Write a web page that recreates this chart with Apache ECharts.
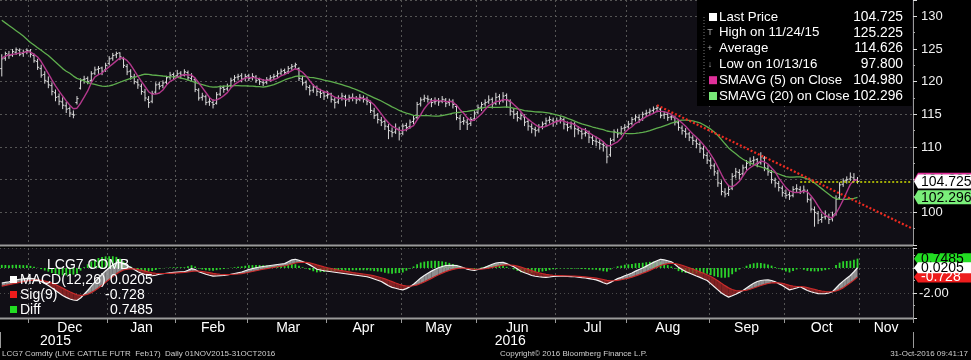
<!DOCTYPE html>
<html><head><meta charset="utf-8">
<script src="https://cdn.jsdelivr.net/npm/echarts@6/dist/echarts.min.js"></script>
<style>html,body{margin:0;padding:0;background:#000;}#c{width:971px;height:360px;}</style>
</head><body><div id="c"></div>
<script>
// ---------------- DATA ----------------
const holidays = ['2015-11-26','2015-12-25','2016-01-01','2016-01-18','2016-02-15','2016-03-25','2016-05-30','2016-07-04','2016-09-05'];
const firstDay = '2015-11-18', lastAxisDay = '2016-11-21';
const monthNames = ['Jan','Feb','Mar','Apr','May','Jun','Jul','Aug','Sep','Oct','Nov','Dec'];

const opens = [122.0,123.6,124.2,124.1,124.5,124.8,124.3,124.6,124.7,124.0,
123.1,122.0,121.1,120.0,119.4,118.3,117.7,116.9,116.3,115.9,
115.0,116.8,119.0,120.3,120.5,120.2,121.3,121.9,122.1,121.8,
122.8,123.6,124.1,124.4,123.5,122.3,121.6,120.7,119.9,119.3,
118.4,117.3,117.0,118.4,119.6,119.4,119.9,120.7,121.1,
120.9,121.3,121.0,121.4,120.5,120.3,118.7,117.6,117.7,116.9,
116.8,116.7,118.1,119.1,118.9,119.4,120.3,120.7,120.9,120.5,
120.9,120.6,120.7,120.3,119.9,119.9,120.4,120.7,120.9,121.3,
121.7,121.5,122.1,122.4,122.0,120.4,119.9,119.1,118.7,119.1,118.4,118.3,
117.9,118.1,117.2,116.9,117.5,117.7,117.3,117.6,117.4,117.3,
117.5,117.2,116.8,115.5,114.9,114.1,113.9,113.1,112.4,112.3,112.7,
112.1,113.3,113.1,113.9,114.5,116.6,117.3,117.4,117.2,116.9,
117.1,117.0,117.2,116.8,117.0,116.2,114.4,113.9,113.8,113.6,114.3,
115.3,116.1,116.6,116.9,117.3,116.7,117.7,117.1,117.9,117.0,
115.4,115.1,114.4,114.6,113.9,113.1,112.7,112.6,113.1,113.6,114.1,114.1,
113.9,114.1,114.2,113.4,113.1,113.5,112.7,112.4,112.1,112.1,
111.4,110.9,110.7,110.4,110.0,108.8,111.1,112.2,112.1,112.9,
113.1,113.6,114.3,114.5,114.3,115.1,115.3,115.6,115.9,115.8,
114.9,115.0,114.6,114.5,113.7,112.9,112.4,112.0,111.4,110.9,110.4,109.7,108.7,
107.9,107.1,106.0,104.4,103.1,102.9,103.7,105.6,106.1,105.9,
106.9,107.6,107.9,108.1,107.6,108.3,106.7,106.1,104.9,104.4,103.7,
102.9,102.7,102.6,103.6,103.5,103.3,103.2,101.9,100.4,99.8,98.9,
99.3,99.3,99.0,99.8,102.2,104.3,104.9,105.1,105.3,105.0];

const highs = [124.2,124.6,124.7,125.0,125.225,125.1,124.9,125.1,125.0,124.3,
123.5,122.6,121.6,120.8,119.9,118.8,118.2,117.6,116.9,116.2,
115.6,117.8,120.5,120.9,120.8,121.6,122.3,122.4,122.3,122.9,
123.9,124.4,124.6,124.5,123.8,122.7,121.9,121.2,120.4,119.7,
118.9,117.8,118.6,119.9,120.0,120.2,120.9,121.5,121.4,
121.8,121.6,121.9,121.7,121.3,120.6,119.0,118.3,118.0,117.5,
117.3,118.4,119.4,119.4,119.7,120.6,121.0,121.2,121.3,121.2,
121.2,121.3,121.0,120.6,120.4,120.7,121.0,121.2,121.7,122.0,
122.0,122.4,122.7,122.9,122.2,120.9,120.2,119.5,119.6,119.4,118.9,118.6,
118.6,118.3,117.6,117.9,118.3,118.0,118.0,118.2,117.8,118.1,
117.9,117.7,117.1,116.0,115.2,114.6,114.2,113.5,113.0,113.6,113.1,
113.6,113.7,114.2,114.8,116.9,117.6,118.0,117.9,117.5,117.6,
117.5,117.8,117.5,117.4,117.3,116.5,114.9,114.6,114.3,114.6,115.6,
116.5,116.9,117.3,117.9,117.6,118.3,118.1,118.4,118.2,117.3,
115.9,115.5,115.3,115.0,114.3,113.6,113.1,113.5,113.9,114.5,114.7,114.5,
114.5,114.7,114.5,113.9,113.9,113.8,113.2,112.8,112.9,112.5,
111.9,111.6,111.2,110.9,110.4,111.4,112.7,112.8,113.2,113.5,
114.0,114.6,115.0,115.0,115.4,115.7,115.9,116.2,116.4,116.0,
115.4,115.3,115.1,114.8,114.1,113.3,112.9,112.3,111.8,111.3,110.8,110.2,109.2,
108.4,107.5,106.5,104.9,103.7,104.2,106.0,106.8,106.6,107.3,
108.0,108.4,108.6,108.3,109.2,108.6,107.3,106.5,105.3,104.8,104.1,
103.5,103.2,104.0,104.3,104.0,104.1,103.5,102.3,100.9,100.2,99.8,
100.3,99.8,100.1,102.6,104.6,105.2,105.5,106.1,106.0,105.4];

const lows = [120.8,123.2,123.5,123.8,124.1,123.9,123.8,124.2,123.7,122.9,
121.8,120.6,119.7,119.0,117.9,117.0,116.4,115.8,115.2,114.6,
114.4,116.5,118.8,119.7,119.6,119.9,121.0,121.2,121.0,121.5,
122.5,123.2,123.6,123.3,122.1,121.0,120.3,119.6,118.9,118.0,
117.0,116.0,116.7,118.1,118.8,119.0,119.6,120.3,120.4,
120.6,120.5,120.8,120.2,120.1,118.4,117.1,117.1,116.4,116.3,
115.9,116.5,117.8,118.3,118.6,119.1,119.9,120.2,119.9,120.1,
120.1,120.2,119.8,119.5,119.3,119.6,120.0,120.3,120.6,121.0,
121.0,121.2,121.8,121.9,120.1,119.4,118.7,117.9,118.3,117.8,117.5,117.2,
117.4,116.8,115.9,116.6,117.1,116.2,116.9,117.0,116.6,117.0,
116.8,116.4,115.2,114.3,113.6,113.2,112.6,111.2,111.5,112.0,111.0,
111.8,112.4,112.8,113.5,114.3,116.2,116.9,116.8,116.1,116.5,
116.3,116.7,116.1,116.3,115.9,114.1,112.6,113.4,112.6,113.2,114.0,
115.0,115.5,116.2,116.6,115.9,116.4,116.5,116.8,116.0,114.8,
114.3,113.9,114.1,113.2,112.5,112.1,111.6,112.2,112.7,113.2,113.6,113.1,
113.4,113.6,112.7,112.4,112.7,111.5,111.9,111.2,111.6,110.6,
110.3,110.1,109.6,109.3,107.5,108.5,110.8,111.4,111.8,112.4,
112.7,113.3,113.9,113.7,114.0,114.6,114.9,115.2,115.3,114.4,
114.3,114.0,114.1,113.3,112.5,111.9,111.4,110.9,110.3,109.8,109.1,108.2,107.4,
106.6,105.6,103.9,102.6,102.3,102.5,103.4,105.2,105.0,105.6,
106.5,107.1,107.3,106.9,107.3,106.3,105.6,104.4,103.8,103.2,102.4,
102.1,101.9,102.3,103.1,102.8,102.9,101.5,100.1,97.8,98.2,98.4,
98.9,98.2,98.6,99.5,101.9,103.9,104.4,104.8,104.6,104.4];

const closes = [123.5,124.3,124.0,124.6,124.9,124.2,124.5,124.8,124.2,123.2,
122.2,121.0,120.2,119.5,118.5,117.6,117.0,116.4,115.8,115.2,
114.9,117.4,120.2,120.4,120.0,121.2,121.8,122.0,121.6,122.5,
123.5,124.0,124.3,123.8,122.5,121.5,120.8,120.0,119.5,118.5,
117.5,116.8,118.2,119.5,119.3,119.8,120.6,121.0,120.8,
121.2,121.0,121.5,120.6,120.8,118.8,117.5,117.8,116.8,117.0,
116.5,118.0,119.0,118.8,119.3,120.2,120.6,120.8,120.4,120.8,
120.5,120.8,120.2,120.0,119.8,120.3,120.6,120.8,121.2,121.6,
121.4,122.0,122.3,122.6,120.5,119.8,119.2,118.6,119.2,118.5,118.2,117.8,
118.0,117.3,116.8,117.4,117.8,117.2,117.6,117.5,117.2,117.6,
117.3,117.0,115.6,114.8,114.2,113.8,113.2,112.5,112.2,112.8,112.0,
113.2,113.0,113.8,114.3,116.5,117.2,117.5,117.3,116.8,117.0,
116.9,117.3,116.7,117.0,116.5,114.5,113.8,114.0,113.5,114.2,115.2,
116.0,116.5,116.8,117.2,116.6,117.6,117.0,117.8,117.2,115.5,
115.0,114.5,114.8,113.8,113.2,112.8,112.5,113.0,113.5,114.0,114.2,113.8,
114.0,114.3,113.5,113.0,113.6,112.8,112.5,112.0,112.2,111.5,
111.0,110.8,110.5,110.2,108.5,111.0,112.3,112.0,112.8,113.0,
113.5,114.2,114.6,114.2,115.0,115.2,115.5,115.8,116.0,114.8,
115.0,114.5,114.6,113.8,113.0,112.5,112.0,111.5,111.0,110.5,109.8,108.8,108.0,
107.2,106.2,104.5,103.2,102.8,103.5,105.5,106.2,105.8,106.8,
107.5,107.8,108.0,107.5,108.5,106.8,106.2,105.0,104.5,103.8,103.0,
102.6,102.5,103.5,103.6,103.2,103.4,102.0,100.5,100.0,98.8,99.2,
99.4,98.9,99.6,102.0,104.2,104.8,105.0,105.4,105.0,104.725];

const sma5 = [123.6,123.9,124.1,124.2,124.26,124.40,124.44,124.60,124.52,124.18,
123.78,123.08,122.16,121.22,120.28,119.36,118.56,117.80,117.06,116.40,
115.86,115.94,116.70,117.62,118.58,119.84,120.72,121.08,121.32,121.82,
122.28,122.72,123.18,123.62,123.62,123.22,122.58,121.72,120.86,120.06,
119.26,118.46,118.10,118.10,118.26,118.72,119.48,120.04,120.30,120.68,
120.92,121.10,121.02,121.02,120.54,119.84,119.10,118.34,117.58,117.12,
117.22,117.46,117.86,118.32,119.06,119.58,119.94,120.26,120.56,120.62,
120.66,120.54,120.46,120.26,120.22,120.18,120.30,120.54,120.90,121.12,
121.40,121.70,121.98,121.76,121.44,120.88,120.14,119.46,119.06,118.74,
118.46,118.34,117.96,117.62,117.46,117.46,117.30,117.36,117.50,117.46,
117.42,117.44,117.32,116.94,116.46,115.78,115.08,114.32,113.70,113.18,
112.90,112.54,112.54,112.64,112.96,113.26,114.16,114.96,115.86,116.56,
117.06,117.16,117.10,117.06,116.94,116.98,116.88,116.40,115.70,115.16,
114.46,114.00,114.14,114.58,115.08,115.74,116.34,116.62,116.94,117.04,
117.24,117.24,117.02,116.50,116.00,115.40,114.72,114.26,113.82,113.42,
113.06,113.00,113.16,113.44,113.70,113.90,114.06,113.96,113.72,113.68,
113.44,113.08,112.78,112.62,112.20,111.84,111.50,111.20,110.80,110.20,
110.20,110.50,110.80,111.32,112.22,112.72,113.10,113.62,113.90,114.30,
114.64,114.90,115.14,115.50,115.46,115.42,115.22,114.98,114.54,114.18,
113.68,113.18,112.56,112.00,111.50,110.96,110.32,109.62,108.86,108.00,
106.94,105.82,104.78,104.04,103.90,104.24,104.76,105.56,106.36,106.82,
107.18,107.52,107.86,107.72,107.40,106.80,106.20,105.26,104.50,103.78,
103.28,103.08,103.04,103.08,103.24,103.14,102.54,101.82,100.94,100.10,
99.58,99.26,99.18,99.82,100.82,101.90,103.12,104.28,104.88,104.98];

const sma20 = [129.4,129.0,128.6,128.2,127.8,127.4,127.0,126.5,126.0,125.6,
125.2,124.8,124.4,124.0,123.5,123.0,122.5,122.0,121.6,121.28,
120.85,120.51,120.32,120.11,119.86,119.71,119.58,119.44,119.31,119.27,
119.34,119.49,119.69,119.91,120.11,120.30,120.49,120.67,120.86,121.02,
121.15,121.12,121.02,120.98,120.94,120.87,120.81,120.76,120.72,120.66,
120.53,120.41,120.22,120.07,119.89,119.69,119.54,119.38,119.25,119.15,
119.18,119.29,119.32,119.31,119.35,119.39,119.40,119.37,119.37,119.34,
119.33,119.26,119.23,119.18,119.26,119.41,119.56,119.78,120.01,120.26,
120.46,120.62,120.81,120.87,120.85,120.78,120.67,120.61,120.50,120.38,
120.23,120.12,119.99,119.84,119.69,119.55,119.37,119.19,118.99,118.78,
118.56,118.31,118.03,117.78,117.53,117.28,117.04,116.74,116.44,116.14,
115.89,115.59,115.39,115.20,115.02,114.84,114.81,114.79,114.79,114.79,
114.75,114.74,114.73,114.82,114.91,115.05,115.19,115.25,115.32,115.41,
115.44,115.55,115.65,115.80,115.94,116.06,116.10,116.07,116.07,116.06,
116.11,116.12,116.05,115.93,115.82,115.71,115.58,115.51,115.46,115.39,
115.36,115.33,115.27,115.18,115.04,114.90,114.76,114.60,114.37,114.20,
113.95,113.72,113.54,113.40,113.25,113.06,112.91,112.78,112.65,112.45,
112.35,112.29,112.19,112.12,112.08,112.05,112.05,112.10,112.16,112.23,
112.35,112.50,112.69,112.88,113.05,113.25,113.43,113.64,113.82,114.04,
114.12,114.10,114.08,113.99,113.86,113.68,113.41,113.08,112.73,112.29,
111.75,111.14,110.49,109.86,109.40,108.96,108.52,108.13,107.82,107.56,
107.33,107.11,106.96,106.75,106.53,106.29,106.08,105.87,105.66,105.48,
105.38,105.39,105.43,105.42,105.31,105.10,104.84,104.50,104.06,103.63,
103.20,102.77,102.33,102.09,101.99,101.98,102.00,102.08,102.15,102.296];

const macd = [-1.20,-1.15,-1.10,-1.02,-0.95,-0.90,-0.86,-0.82,-0.83,-0.86,
-0.95,-1.08,-1.24,-1.40,-1.60,-1.80,-2.00,-2.20,-2.35,-2.48,
-2.56,-2.60,-2.40,-2.10,-1.80,-1.45,-1.12,-0.80,-0.50,-0.22,
0.02,0.25,0.42,0.45,0.35,0.20,0.05,-0.12,-0.30,-0.42,
-0.52,-0.60,-0.62,-0.58,-0.50,-0.46,-0.42,-0.38,-0.35,-0.33,
-0.31,-0.30,-0.18,-0.05,-0.12,-0.30,-0.40,-0.50,-0.58,-0.65,
-0.64,-0.62,-0.60,-0.56,-0.50,-0.44,-0.38,-0.32,-0.22,-0.12,
-0.05,0.02,0.08,0.12,0.16,0.20,0.24,0.28,0.32,0.35,
0.50,0.65,0.70,0.62,0.52,0.40,0.25,0.08,-0.10,-0.16,
-0.22,-0.26,-0.30,-0.34,-0.38,-0.42,-0.46,-0.50,-0.54,-0.58,
-0.62,-0.66,-0.70,-0.78,-0.88,-0.98,-1.08,-1.25,-1.42,-1.55,
-1.62,-1.70,-1.75,-1.65,-1.50,-1.30,-1.05,-0.80,-0.60,-0.42,
-0.25,-0.10,0.02,0.12,0.20,0.22,0.21,0.20,0.12,0.02,
-0.10,-0.16,-0.20,-0.12,-0.04,0.05,0.18,0.30,0.40,0.44,
0.45,0.35,0.22,0.10,-0.08,-0.26,-0.38,-0.48,-0.60,-0.66,
-0.70,-0.73,-0.75,-0.72,-0.68,-0.66,-0.65,-0.66,-0.68,-0.69,
-0.70,-0.73,-0.77,-0.80,-0.85,-0.90,-0.95,-1.05,-1.18,-1.28,
-1.15,-1.00,-0.85,-0.75,-0.62,-0.52,-0.40,-0.25,-0.12,0.00,
0.15,0.30,0.45,0.58,0.70,0.65,0.58,0.50,0.30,0.05,
-0.12,-0.28,-0.40,-0.52,-0.64,-0.75,-0.88,-1.00,-1.25,-1.50,
-1.75,-2.00,-2.18,-2.33,-2.22,-2.10,-1.95,-1.80,-1.60,-1.40,
-1.22,-1.08,-1.00,-0.96,-0.95,-1.00,-1.10,-1.25,-1.40,-1.58,
-1.75,-1.68,-1.60,-1.50,-1.65,-1.80,-1.90,-1.98,-2.05,-2.06,
-2.05,-2.00,-1.90,-1.60,-1.30,-1.05,-0.82,-0.60,-0.30,0.0205];

const signal = [-1.45,-1.39,-1.33,-1.27,-1.21,-1.15,-1.09,-1.04,-1.00,-0.97,
-0.97,-0.99,-1.04,-1.11,-1.21,-1.33,-1.46,-1.61,-1.76,-1.90,
-2.03,-2.14,-2.19,-2.17,-2.10,-1.97,-1.80,-1.60,-1.38,-1.15,
-0.92,-0.69,-0.47,-0.29,-0.16,-0.09,-0.06,-0.07,-0.12,-0.18,
-0.25,-0.32,-0.38,-0.42,-0.44,-0.44,-0.44,-0.43,-0.41,-0.39,
-0.37,-0.36,-0.32,-0.27,-0.24,-0.25,-0.28,-0.32,-0.37,-0.43,
-0.47,-0.50,-0.52,-0.53,-0.52,-0.50,-0.48,-0.45,-0.40,-0.34,
-0.28,-0.22,-0.16,-0.10,-0.05,0.00,0.05,0.10,0.14,0.18,
0.24,0.32,0.40,0.44,0.46,0.45,0.41,0.34,0.25,0.17,
0.09,0.02,-0.04,-0.10,-0.16,-0.21,-0.26,-0.31,-0.36,-0.40,
-0.44,-0.48,-0.52,-0.57,-0.63,-0.70,-0.78,-0.87,-0.98,-1.09,
-1.20,-1.30,-1.39,-1.44,-1.45,-1.42,-1.35,-1.24,-1.11,-0.97,
-0.83,-0.68,-0.54,-0.41,-0.29,-0.19,-0.11,-0.05,-0.02,-0.01,
-0.03,-0.06,-0.09,-0.10,-0.09,-0.06,-0.01,0.05,0.12,0.18,
0.23,0.25,0.24,0.21,0.15,0.07,-0.02,-0.11,-0.21,-0.30,
-0.38,-0.45,-0.51,-0.55,-0.58,-0.60,-0.61,-0.62,-0.63,-0.64,
-0.65,-0.67,-0.69,-0.71,-0.74,-0.77,-0.81,-0.86,-0.92,-0.99,
-1.02,-1.02,-0.99,-0.94,-0.88,-0.81,-0.73,-0.63,-0.53,-0.42,
-0.31,-0.19,-0.06,0.07,0.20,0.29,0.35,0.38,0.36,0.30,
0.22,0.12,0.02,-0.09,-0.20,-0.31,-0.42,-0.54,-0.68,-0.84,
-1.02,-1.22,-1.41,-1.59,-1.72,-1.80,-1.83,-1.82,-1.78,-1.70,
-1.60,-1.50,-1.40,-1.31,-1.24,-1.19,-1.17,-1.19,-1.23,-1.30,
-1.39,-1.45,-1.48,-1.48,-1.51,-1.57,-1.64,-1.71,-1.78,-1.84,
-1.88,-1.90,-1.90,-1.84,-1.73,-1.59,-1.38,-1.18,-0.97,-0.728];

const lastPrice = 104.725;
const lastLineStart = '2016-10-07';
const trendStart = ['2016-08-11', 116.4];
const trendEnd = ['2016-11-21', 97.6];

const legendNames = ['Last Price','High on 11/24/15','Average','Low on 10/13/16','SMAVG (5) on Close','SMAVG (20) on Close'];
const legendValues = ['104.725','125.225','114.626','97.800','104.980','102.296'];
const macdLegendNames = ['MACD(12,26)','Sig(9)','Diff'];
const macdLegendValues = ['0.0205','-0.728','0.7485'];
const mainTagValues = [104.980, 102.296, 104.725];
const macdTagValues = [0.7485, -0.728, 0.0205];
const footerLeft = 'LCG7 Comdty (LIVE CATTLE FUTR  Feb17)  Daily 01NOV2015-31OCT2016';
const footerMid = 'Copyright\u00A9 2016 Bloomberg Finance L.P.';
const footerRight = '31-Oct-2016 09:41:17';
const panelTitle = 'LCG7 COMB';

// ---------------- BUILD ----------------
function buildDays(){
  const out=[]; const p=firstDay.split('-').map(Number); const q=lastAxisDay.split('-').map(Number);
  let t=Date.UTC(p[0],p[1]-1,p[2]); const end=Date.UTC(q[0],q[1]-1,q[2]);
  while(t<=end){ const d=new Date(t); const wd=d.getUTCDay(); const s=d.toISOString().slice(0,10);
    if(wd!==0&&wd!==6&&holidays.indexOf(s)<0) out.push(s); t+=86400000; }
  return out;
}
const cats = buildDays();
function groups(len){ const g=[]; cats.forEach((d,i)=>{const k=d.slice(0,len); const last=g[g.length-1]; if(!last||last.key!==k) g.push({key:k,first:i,last:i}); else last.last=i;}); return g; }
const mGroups = groups(7), yGroups = groups(4);
const monthStart = new Set(mGroups.slice(1).map(g=>g.first));
const monthLabel = new Map(); mGroups.forEach(g=>{ if(g.last-g.first+1>=10) monthLabel.set(Math.round((g.first+g.last)/2), monthNames[+g.key.slice(5,7)-1]); });
const yearStart = new Set(yGroups.slice(1).map(g=>g.first));
const yearLabel = new Map(); yGroups.forEach(g=>yearLabel.set(Math.round((g.first+g.last)/2), g.key));

const ohlc = closes.map((c,i)=>[i, opens[i], highs[i], lows[i], c]);
const diff = macd.map((m,i)=>+(m-signal[i]).toFixed(4));
const bandPolys = [];
for(let i=0;i<macd.length-1;i++) bandPolys.push([i, macd[i], signal[i], macd[i+1], signal[i+1]]);

const FONT = 'Liberation Sans, Arial, sans-serif';
const GRIDC = '#555555';
const AXC = '#9a9a9a';

const mainTagStyle = [{bg:'#e0309a',fg:'#000'},{bg:'#7aee7a',fg:'#000'},{bg:'#ffffff',fg:'#000'}];
const macdTagStyle = [{bg:'#22dd22',fg:'#000'},{bg:'#ee1c1c',fg:'#fff'},{bg:'#ffffff',fg:'#000'}];

function tagSeries(vals, styles, xi, yi, h, fmt){
  return {
    type:'custom', xAxisIndex:xi, yAxisIndex:yi, clip:false, silent:true, z:20,
    data: vals.map(v=>[0,v]), encode:{x:0,y:1},
    renderItem:(params, api)=>{
      const v=api.value(1); const y=api.coord([0,v])[1];
      const x0=params.coordSys.x+params.coordSys.width; const st=styles[params.dataIndex];
      return {type:'group', children:[
        {type:'polygon', shape:{points:[[x0+1,y],[x0+5,y-h/2],[x0+60,y-h/2],[x0+60,y+h/2],[x0+5,y+h/2]]}, style:{fill:st.bg}},
        {type:'text', style:{x:x0+8, y:y+0.5, text:fmt(v), fill:st.fg, font:'14px '+FONT, verticalAlign:'middle', align:'left'}}
      ]};
    }
  };
}

const graphic = [];
graphic.push({type:'rect', z:50, shape:{x:0,y:244.5,width:913,height:2}, style:{fill:AXC}});
graphic.push({type:'rect', z:50, shape:{x:0,y:317.5,width:913,height:2}, style:{fill:AXC}});
graphic.push({type:'rect', z:100, shape:{x:697,y:0,width:215,height:106}, style:{fill:'#000'}});
graphic.push({type:'line', z:101, shape:{x1:704,y1:17,x2:704,y2:96}, style:{stroke:'#777', lineDash:[1,2], lineWidth:1}});
legendNames.forEach((n,i)=>{
  const y = 17 + i*15.8;
  graphic.push({type:'text', z:101, style:{x:719, y:y, text:n, fill:'#fff', font:'13.3px '+FONT, verticalAlign:'middle'}});
  graphic.push({type:'text', z:101, style:{x:903, y:y, text:legendValues[i], fill:'#fff', font:'13.8px '+FONT, verticalAlign:'middle', align:'right'}});
});
const legendSquares = {0:'#ffffff',4:'#e0309a',5:'#78e878'};
Object.keys(legendSquares).forEach(k=>{ const y=17+k*15.8; graphic.push({type:'rect', z:102, shape:{x:709,y:y-4,width:8,height:8}, style:{fill:legendSquares[k]}}); });
[['T',1],['+',2],['\u2193',3]].forEach(([g,i])=>{ const y=17+i*15.8; graphic.push({type:'text', z:102, style:{x:710,y:y,text:g,fill:'#aaa',font:'9px '+FONT,verticalAlign:'middle',align:'center'}}); });
graphic.push({type:'text', z:101, style:{x:47, y:265, text:panelTitle, fill:'#fff', font:'14px '+FONT, verticalAlign:'middle'}});
const macdSq = ['#ffffff','#ee1c1c','#22dd22'];
macdLegendNames.forEach((n,i)=>{
  const y = 280 + i*15;
  graphic.push({type:'rect', z:101, shape:{x:10,y:y-4,width:7,height:7}, style:{fill:macdSq[i]}});
  graphic.push({type:'text', z:101, style:{x:20, y:y, text:n, fill:'#fff', font:'14px '+FONT, verticalAlign:'middle'}});
  const v = macdLegendValues[i];
  graphic.push({type:'text', z:101, style:{x:v.charAt(0)==='-'?105:110, y:y, text:v, fill:'#fff', font:'14px '+FONT, verticalAlign:'middle'}});
});
graphic.push({type:'text', z:101, style:{x:2, y:354, text:footerLeft, fill:'#cfcfcf', font:'8px '+FONT, verticalAlign:'middle'}});
graphic.push({type:'text', z:101, style:{x:500, y:354, text:footerMid, fill:'#cfcfcf', font:'8px '+FONT, verticalAlign:'middle'}});
graphic.push({type:'text', z:101, style:{x:968, y:354, text:footerRight, fill:'#cfcfcf', font:'8px '+FONT, verticalAlign:'middle', align:'right'}});

const option = {
  animation:false,
  backgroundColor:'#000',
  grid:[
    {left:0, top:0, width:913, height:245, show:true, backgroundColor:'#110f16', borderWidth:0, containLabel:false},
    {left:0, top:248, width:913, height:70, show:true, backgroundColor:'#110f16', borderWidth:0, containLabel:false}
  ],
  xAxis:[
    {type:'category', gridIndex:0, data:cats, boundaryGap:true, position:'bottom',
     axisLine:{show:false, onZero:false}, axisTick:{show:false}, axisLabel:{show:false},
     splitLine:{show:true, interval:(i)=>monthStart.has(i), lineStyle:{color:GRIDC, type:[2,3], width:1}}},
    {type:'category', gridIndex:1, data:cats, boundaryGap:true, position:'bottom',
     axisLine:{show:false, onZero:false},
     axisTick:{show:true, interval:(i)=>monthStart.has(i), length:5, lineStyle:{color:AXC}},
     axisLabel:{show:true, interval:(i)=>monthLabel.has(i), formatter:(v,i)=>monthLabel.get(i)||'', color:'#fff', fontSize:14, fontFamily:FONT, margin:3},
     splitLine:{show:true, interval:(i)=>monthStart.has(i), lineStyle:{color:GRIDC, type:[2,3], width:1}}},
    {type:'category', gridIndex:1, data:cats, boundaryGap:true, position:'bottom', offset:14,
     axisLine:{show:false, onZero:false},
     axisTick:{show:true, interval:(i)=>yearStart.has(i), length:16, lineStyle:{color:AXC}},
     axisLabel:{show:true, interval:(i)=>yearLabel.has(i), formatter:(v,i)=>yearLabel.get(i)||'', color:'#fff', fontSize:14, fontFamily:FONT, margin:2},
     splitLine:{show:false}}
  ],
  yAxis:[
    {type:'value', gridIndex:0, position:'right', min:95, max:132.5, interval:5,
     axisLine:{show:true, onZero:false, lineStyle:{color:AXC, width:1}},
     axisTick:{show:true, length:4, lineStyle:{color:'#ddd'}},
     minorTick:{show:true, splitNumber:2, length:2, lineStyle:{color:'#aaa'}},
     axisLabel:{color:'#f0f0f0', fontSize:13, fontFamily:FONT, margin:8, showMinLabel:false, showMaxLabel:false},
     splitLine:{show:true, lineStyle:{color:GRIDC, type:[2,3]}}},
    {type:'value', gridIndex:1, position:'right', min:-4, max:1.6, interval:2,
     axisLine:{show:true, onZero:false, lineStyle:{color:AXC, width:1}},
     axisTick:{show:true, length:4, lineStyle:{color:'#ddd'}},
     minorTick:{show:true, splitNumber:2, length:2, lineStyle:{color:'#aaa'}},
     axisLabel:{color:'#f0f0f0', fontSize:13, fontFamily:FONT, margin:6, showMinLabel:false, showMaxLabel:false, formatter:(v)=>v.toFixed(2)},
     splitLine:{show:true, lineStyle:{color:'#4a4a4a', type:[1,3]}}}
  ],
  graphic: graphic,
  series:[
    {name:'Last Price', type:'custom', xAxisIndex:0, yAxisIndex:0, data:ohlc, encode:{x:0, y:[1,2,3,4]}, silent:true,
     renderItem:(params, api)=>{
       const i=api.value(0);
       const o=api.coord([i,api.value(1)]), h=api.coord([i,api.value(2)]), l=api.coord([i,api.value(3)]), c=api.coord([i,api.value(4)]);
       const t=api.size([1,0])[0]*0.45;
       const st={stroke:'#dcdcdc', lineWidth:1};
       return {type:'group', children:[
         {type:'line', shape:{x1:h[0],y1:h[1],x2:l[0],y2:l[1]}, style:st},
         {type:'line', shape:{x1:o[0]-t,y1:o[1],x2:o[0],y2:o[1]}, style:st},
         {type:'line', shape:{x1:c[0],y1:c[1],x2:c[0]+t,y2:c[1]}, style:st}
       ]};
     }},
    {name:'SMAVG (20)', type:'line', xAxisIndex:0, yAxisIndex:0, data:sma20, symbol:'none', silent:true,
     lineStyle:{color:'#5fae4e', width:1.3}},
    {name:'SMAVG (5)', type:'line', xAxisIndex:0, yAxisIndex:0, data:sma5, symbol:'none', silent:true,
     lineStyle:{color:'#b3388c', width:1.4},
     markLine:{silent:true, symbol:['none','none'], label:{show:false}, animation:false,
       data:[
         [{coord:[lastLineStart, lastPrice], lineStyle:{color:'#cfe000', type:[2,2], width:1.5}}, {coord:[cats[cats.length-1], lastPrice]}],
         [{coord:[trendStart[0], trendStart[1]], lineStyle:{color:'#ee2a1f', type:[2,2], width:2.2}}, {coord:[trendEnd[0], trendEnd[1]]}]
       ]}},
    tagSeries(mainTagValues, mainTagStyle, 0, 0, 14, v=>v.toFixed(3)),
    {name:'Diff', type:'custom', xAxisIndex:1, yAxisIndex:1, data:diff.map((d,i)=>[i,d]), encode:{x:0,y:1}, silent:true,
     renderItem:(params, api)=>{
       const i=api.value(0); const p0=api.coord([i,0]); const p1=api.coord([i,api.value(1)]);
       const w=api.size([1,0])[0]*0.5;
       return {type:'rect', shape:{x:p0[0]-w/2, y:Math.min(p0[1],p1[1]), width:w, height:Math.abs(p1[1]-p0[1])}, style:{fill:'#2bd52b'}};
     }},
    {name:'Band', type:'custom', xAxisIndex:1, yAxisIndex:1, data:bandPolys, encode:{x:0,y:[1,2,3,4]}, silent:true,
     renderItem:(params, api)=>{
       const i=api.value(0);
       const m0=api.value(1), s0=api.value(2), m1=api.value(3), s1=api.value(4);
       const d0=m0-s0, d1=m1-s1;
       const P=(x,v)=>api.coord([x,v]);
       const polys=[];
       const add=(pts,up)=>polys.push({type:'polygon', shape:{points:pts}, style:{fill: up?'rgba(165,165,165,0.85)':'rgba(150,38,38,0.85)'}});
       if((d0>=0&&d1>=0)||(d0<=0&&d1<=0)){
         add([P(i,m0),P(i+1,m1),P(i+1,s1),P(i,s0)], (d0+d1)>=0);
       } else {
         const t=d0/(d0-d1); const xc=i+t; const vc=m0+(m1-m0)*t;
         add([P(i,m0),P(xc,vc),P(i,s0)], d0>0);
         add([P(xc,vc),P(i+1,m1),P(i+1,s1)], d1>0);
       }
       return {type:'group', children:polys};
     }},
    {name:'MACD', type:'line', xAxisIndex:1, yAxisIndex:1, data:macd, symbol:'none', silent:true, lineStyle:{color:'#f2f2f2', width:1.2}},
    {name:'Sig', type:'line', xAxisIndex:1, yAxisIndex:1, data:signal, symbol:'none', silent:true, lineStyle:{color:'#c82a2a', width:1.2}},
    tagSeries(macdTagValues, macdTagStyle, 1, 1, 11, v=>(v<0? v.toFixed(3) : v.toFixed(4)))
  ]
};
const chart = echarts.init(document.getElementById('c'), null, {renderer:'canvas'});
chart.setOption(option);
</script>
</body></html>
